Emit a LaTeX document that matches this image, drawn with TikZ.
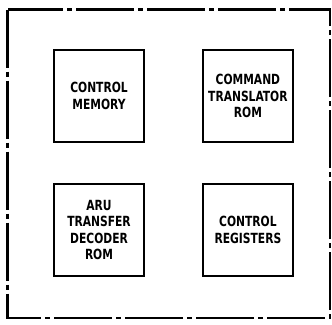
\documentclass[tikz,border=0pt]{standalone}
\usepackage{fontspec}
\setsansfont[FakeStretch=0.85]{DejaVu Sans Condensed}
\usetikzlibrary{positioning}

\begin{document}
\begin{tikzpicture}[
    x=1pt, y=1pt,
    node distance=40pt and 57pt,
    unit/.style={draw, rectangle, line width=1.9pt, align=center, inner sep=0pt, minimum width=90pt, minimum height=92pt, font=\sffamily\bfseries\fontsize{14}{16.5}\selectfont},
    frame/.style={draw, line width=2.6pt, dash pattern=on 58pt off 4pt on 5pt off 4pt}
]
\useasboundingbox (0,0) rectangle (332,-324);

% Outer enclosure
\coordinate (nw) at (7.5,-9.5);
\coordinate (se) at (330,-318);
\draw [frame] (nw) rectangle (se);

% Units
\node (ctrlmem) [unit] at (99,-96) {CONTROL\\MEMORY};
\node (cmdrom) [unit, right=of ctrlmem] {COMMAND\\TRANSLATOR\\ROM};
\node (arurom) [unit, below=of ctrlmem] {ARU\\TRANSFER\\DECODER\\ROM};
\node (ctrlreg) [unit, below=of cmdrom] {CONTROL\\REGISTERS};

\end{tikzpicture}
\end{document}
